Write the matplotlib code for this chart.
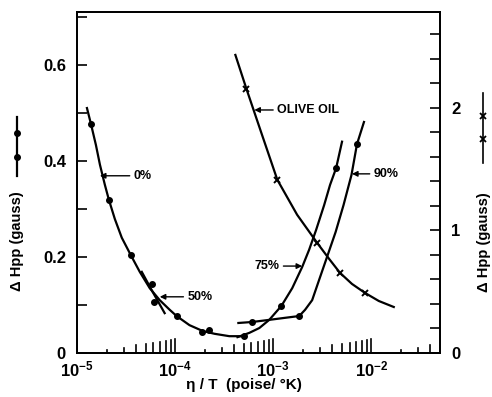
import numpy as np
import matplotlib
matplotlib.use("Agg")
import matplotlib.pyplot as plt
from matplotlib.lines import Line2D

plt.rcParams['font.family'] = ['Liberation Sans', 'DejaVu Sans']
plt.rcParams['font.weight'] = 'bold'
plt.rcParams['mathtext.fontset'] = 'custom'
plt.rcParams['mathtext.bf'] = 'Liberation Sans:bold'
plt.rcParams['mathtext.rm'] = 'Liberation Sans:bold'
plt.rcParams['mathtext.default'] = 'bf'

# 0% curve (left axis, gauss)
x0 = [1.263e-5, 1.387e-5, 1.559e-5, 1.713e-5, 1.924e-5, 2.113e-5, 2.43e-5, 2.86e-5,
      3.53e-5, 4.36e-5, 5.51e-5, 6.97e-5, 8.80e-5, 1.035e-4, 1.40e-4, 1.90e-4,
      2.52e-4, 3.57e-4, 5.08e-4]
y0 = [0.510, 0.477, 0.433, 0.392, 0.350, 0.319, 0.279, 0.240,
      0.204, 0.169, 0.135, 0.110, 0.090, 0.077, 0.058, 0.046,
      0.040, 0.035, 0.035]
x0_pts = [1.387e-5, 2.113e-5, 3.53e-5, 1.035e-4, 1.90e-4, 2.19e-4, 5.08e-4]
y0_pts = [0.477, 0.319, 0.204, 0.077, 0.044, 0.048, 0.035]

# 50% segment
x50 = [4.57e-5, 5.91e-5, 7.82e-5]
y50 = [0.169, 0.127, 0.083]
x50_pts = [5.77e-5, 6.05e-5]
y50_pts = [0.144, 0.106]

# 75% curve
x75 = [4.32e-4, 5.71e-4, 7.21e-4, 9.10e-4, 1.21e-3, 1.56e-3, 1.97e-3, 2.32e-3,
       2.73e-3, 3.30e-3, 3.79e-3, 4.37e-3, 5.02e-3]
y75 = [0.033, 0.042, 0.052, 0.069, 0.098, 0.135, 0.179, 0.215,
       0.256, 0.308, 0.350, 0.385, 0.440]
x75_pts = [1.21e-3, 4.37e-3]
y75_pts = [0.098, 0.385]

# 90% curve
x90 = [4.41e-4, 6.12e-4, 9.1e-4, 1.29e-3, 1.84e-3, 2.11e-3, 2.49e-3, 2.93e-3,
       3.45e-3, 4.32e-3, 5.20e-3, 6.27e-3, 7.13e-3, 8.4e-3]
y90 = [0.0625, 0.0646, 0.069, 0.073, 0.077, 0.090, 0.110, 0.152,
       0.194, 0.252, 0.308, 0.371, 0.435, 0.481]
x90_pts = [6.12e-4, 1.84e-3, 7.13e-3]
y90_pts = [0.0646, 0.077, 0.435]

# olive oil (right axis, gauss)
x_oil = [4.11e-4, 5.32e-4, 7.55e-4, 1.1e-3, 1.75e-3, 2.8e-3, 3.71e-3, 4.79e-3,
         6.34e-3, 8.6e-3, 1.19e-2, 1.69e-2]
y_oil = [2.43, 2.155, 1.796, 1.412, 1.127, 0.898, 0.767, 0.653,
         0.563, 0.49, 0.424, 0.375]
x_oil_pts = [5.32e-4, 1.1e-3, 2.8e-3, 4.79e-3, 8.6e-3]
y_oil_pts = [2.155, 1.412, 0.898, 0.653, 0.49]

decades = [1e-5, 1e-4, 1e-3, 1e-2]
xtick_labels = ['$10^{-5}$', '$10^{-4}$', '$10^{-3}$', '$10^{-2}$']
minor_len = {2: 3, 3: 5, 4: 8, 5: 9, 6: 10, 7: 11, 8: 12, 9: 13}

fig = plt.figure(figsize=(4.92, 3.97), dpi=100)
ax = fig.add_axes([77/492, 44/397, 363/492, 341/397])
ax2 = ax.twinx()

lw = 1.6
ax.plot(x0, y0, color='black', lw=lw)
ax.plot(x0_pts, y0_pts, 'o', color='black', ms=4)
ax.plot(x50, y50, color='black', lw=lw)
ax.plot(x50_pts, y50_pts, 'o', color='black', ms=4)
ax.plot(x75, y75, color='black', lw=lw)
ax.plot(x75_pts, y75_pts, 'o', color='black', ms=4)
ax.plot(x90, y90, color='black', lw=lw)
ax.plot(x90_pts, y90_pts, 'o', color='black', ms=4)
ax2.plot(x_oil, y_oil, color='black', lw=lw)
ax2.plot(x_oil_pts, y_oil_pts, 'x', color='black', ms=5, mew=1.4)

ax.set_xscale('log')
ax.set_xlim(1e-5, 5e-2)
ax.set_ylim(0, 0.71)
ax2.set_ylim(0, 2.78)

ax.set_xticks(decades)
ax.set_xticklabels(xtick_labels, fontsize=12)
ax.xaxis.set_minor_locator(matplotlib.ticker.NullLocator())
ax.tick_params(axis='x', length=0, pad=5)

# growing tick marks along the bottom
ht = ax.get_xaxis_transform()
for d in decades:
    ax.plot([d, d], [0, 14/341], color='black', lw=1.2, transform=ht)
    for m, L in minor_len.items():
        if d * m < 5e-2:
            ax.plot([d*m, d*m], [0, L/341], color='black', lw=1.2, transform=ht)

ax.set_yticks([0, 0.2, 0.4, 0.6])
ax.set_yticklabels(['0', '0.2', '0.4', '0.6'], fontsize=12)
ax.set_yticks([0.1, 0.3, 0.5, 0.7], minor=True)
ax.tick_params(axis='y', which='both', direction='in', length=7, width=1.2, pad=8)

ax2.set_yticks([0, 1, 2])
ax2.set_yticklabels(['0', '1', '2'], fontsize=12)
ax2.set_yticks(np.arange(0.2, 2.7, 0.2), minor=True)
ax2.tick_params(axis='y', which='both', direction='in', length=7, width=1.2, pad=8)

for a in (ax, ax2):
    for s in a.spines.values():
        s.set_linewidth(1.3)

fig.text(244/492, 1 - 385/397, 'η / T  (poise/ °K)', fontsize=11, fontweight='bold',
         ha='center', va='center')

# curve labels
arr = dict(arrowstyle='-|>', color='black', lw=1.0, mutation_scale=8, shrinkA=1, shrinkB=0)
ax.annotate('0%', xy=(1.71e-5, 0.369), xytext=(3.8e-5, 0.369), fontsize=9,
            va='center', ha='left', arrowprops=arr)
ax.annotate('50%', xy=(6.97e-5, 0.117), xytext=(1.34e-4, 0.117), fontsize=9,
            va='center', ha='left', arrowprops=arr)
ax.annotate('OLIVE OIL', xy=(6.41e-4, 0.506), xytext=(1.1e-3, 0.506), fontsize=9,
            va='center', ha='left', arrowprops=arr)
ax.annotate('90%', xy=(6.34e-3, 0.373), xytext=(1.06e-2, 0.373), fontsize=9,
            va='center', ha='left', arrowprops=arr)
ax.annotate('75%', xy=(1.97e-3, 0.181), xytext=(1.15e-3, 0.181), fontsize=9,
            va='center', ha='right', arrowprops=arr)

# axis titles with their series keys
fig.text(17/492, 1 - 241/397, 'Δ Hpp (gauss)', rotation=90, fontsize=10.5,
         fontweight='bold', ha='center', va='center')
fig.add_artist(Line2D([17/492, 17/492], [1 - 117/397, 1 - 176/397], color='black', lw=1.6))
fig.add_artist(Line2D([17/492, 17/492], [1 - 133/397, 1 - 157/397], ls='none',
                      marker='o', ms=4, color='black'))
fig.text(484/492, 1 - 242/397, 'Δ Hpp (gauss)', rotation=90, fontsize=10.5,
         fontweight='bold', ha='center', va='center')
fig.add_artist(Line2D([483/492, 483/492], [1 - 93/397, 1 - 163/397], color='black', lw=1.2))
fig.add_artist(Line2D([483/492, 483/492], [1 - 116/397, 1 - 139/397], ls='none',
                      marker='x', ms=5, mew=1.3, color='black'))

fig.savefig('out.png', dpi=100)
